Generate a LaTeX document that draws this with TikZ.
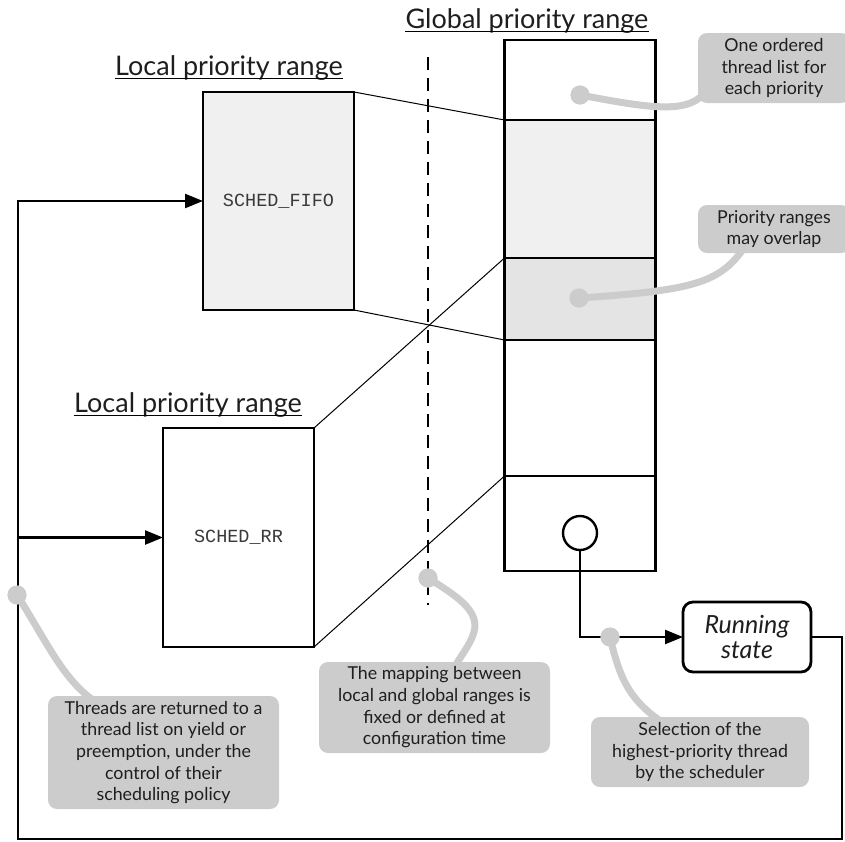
\documentclass[tikz,border=0pt]{standalone}
\usepackage{fontspec}
\setmainfont{Lato}
\setmonofont{Liberation Mono}
\usetikzlibrary{arrows.meta}

\definecolor{callgray}{HTML}{CCCCCC}
\definecolor{fifofill}{HTML}{F0F0F0}
\definecolor{overlapfill}{HTML}{E4E4E4}
\definecolor{txt}{HTML}{1E1E1E}
\definecolor{monotxt}{HTML}{3A3A3A}

\begin{document}
\begin{tikzpicture}[x=1pt,y=-1pt,
  box/.style={draw, line width=2.8, inner sep=0, outer sep=0},
  wire/.style={line width=2.4},
  mapline/.style={line width=1},
  tip/.style={-{Triangle[length=18,width=14]}},
  callout/.style={fill=callgray, rounded corners=9, inner sep=0, outer sep=0,
    text=txt, font=\fontsize{17.8}{21.7}\selectfont, align=center},
  pin/.style={draw=callgray, line width=7, line cap=round},
  dot/.style={circle, fill=callgray, minimum size=19, inner sep=0},
  title/.style={font=\fontsize{27}{30}\selectfont, anchor=base, inner sep=0, text=txt},
  mono/.style={font=\ttfamily\fontsize{18.5}{20}\selectfont, text=monotxt},
]
\useasboundingbox (0,0) rectangle (845,841);

% headings
\node[title] (tG) at (527,28) {Global priority range};
\node[title] (tL1) at (229,75) {Local priority range};
\node[title] (tL2) at (188,412) {Local priority range};
\foreach \t in {tG,tL1,tL2}
  \draw[line width=1.8] ([yshift=-3.5pt]\t.base west) -- ([yshift=-3.5pt]\t.base east);

% boundary between local and global ranges
\coordinate (dashTop) at (428,57);
\coordinate (dashBot) at (428,605);
\draw[line width=2.4, dash pattern=on 13pt off 8pt] (dashTop) -- (dashBot);

% global priority column
\node[box, minimum width=151, minimum height=80] (g1) at (580,80) {};
\node[box, fill=fifofill, minimum width=151, minimum height=138] (g2) at (580,189) {};
\node[box, fill=overlapfill, minimum width=151, minimum height=82] (g3) at (580,299) {};
\node[box, minimum width=151, minimum height=136] (g4) at (580,408) {};
\node[box, minimum width=151, minimum height=95] (g5) at (580,523.5) {};
\node[circle, draw, line width=2.4, minimum size=34, inner sep=0] (circ) at (580,533) {};

% local priority ranges
\node[box, fill=fifofill, minimum width=151, minimum height=218, mono] (fifo) at (278.5,201) {SCHED\_FIFO};
\node[box, fill=white, minimum width=151, minimum height=219, mono] (rr) at (238.5,537.5) {SCHED\_RR};

% mapping of local ranges onto the global range
\draw[mapline] (fifo.north east) -- (g2.north west);
\draw[mapline] (fifo.south east) -- (g4.north west);
\draw[mapline] (rr.north east) -- (g3.north west);
\draw[mapline] (rr.south east) -- (g5.north west);

% running state and thread flow
\node[draw, line width=2.8, rounded corners=10, minimum width=128, minimum height=70,
  inner sep=0, outer sep=0, align=center, font=\itshape\fontsize{25}{25}\selectfont, text=txt]
  (run) at (747,637) {Running\\state};
\coordinate (cBR) at (842,839);
\coordinate (cBL) at (18,839);
\draw[wire, tip] (circ.south) |- (run.west);
\draw[wire, tip] (run.east) -| (cBR) -- (cBL) |- (fifo.west);
\draw[wire, tip] (cBL |- rr.west) -- (rr.west);

% annotation dots
\node[dot] (d1) at (580,95) {};
\node[dot] (d2) at (579,298) {};
\node[dot] (d3) at (17,595) {};
\node[dot] (d4) at (428,578) {};
\node[dot] (d5) at (610,637) {};

% annotation pins
\draw[pin] (d1.center) .. controls (650,108) and (692,116) .. (708,88);
\draw[pin] (d2.center) .. controls (700,290) and (722,282) .. (748,242);
\draw[pin] (d3.center) .. controls (48,643) and (68,692) .. (108,708);
\draw[pin] (d4.center) .. controls (455,595) and (480,610) .. (474,632)
                       .. controls (470,646) and (460,656) .. (452,672);
\draw[pin] (d5.center) .. controls (620,680) and (630,702) .. (668,726);

% redraw dots above the pins
\foreach \d in {d1,d2,d3,d4,d5}
  \fill[callgray] (\d.center) circle (9.5pt);

% annotations
\node[callout, minimum width=152, minimum height=70] (c1) at (774,68)
  {One ordered\\thread list for\\each priority};
\node[callout, minimum width=152, minimum height=48] (c2) at (774,229)
  {Priority ranges\\may overlap};
\node[callout, minimum width=231, minimum height=113] (c3) at (163.5,752.5)
  {Threads are returned to a\\thread list on yield or\\preemption, under the\\control of their\\scheduling policy};
\node[callout, minimum width=231, minimum height=91] (c4) at (434.5,707.5)
  {The mapping between\\local and global ranges is\\fixed or defined at\\configuration time};
\node[callout, minimum width=218, minimum height=70] (c5) at (700,752)
  {Selection of the\\highest-priority thread\\by the scheduler};
\end{tikzpicture}
\end{document}
